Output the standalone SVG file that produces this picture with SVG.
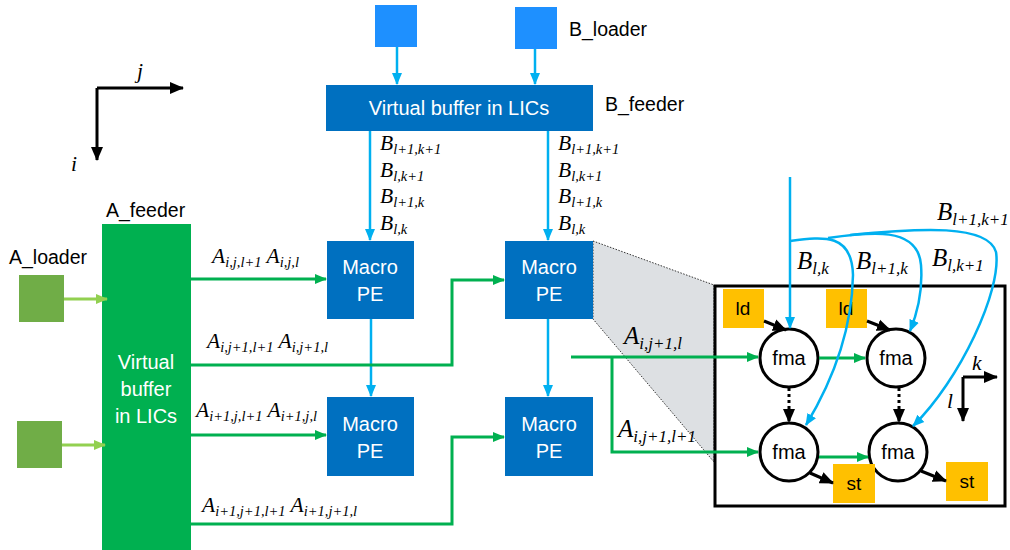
<svg xmlns="http://www.w3.org/2000/svg" width="1010" height="550" viewBox="0 0 1010 550">
<style>
.sans{font-family:"Liberation Sans",Arial,sans-serif;}
.wt{fill:#fff;font-size:20px;text-anchor:middle;}
.lbl{fill:#000;font-size:19.5px;}
.m{font-family:"Liberation Serif","Times New Roman",serif;font-style:italic;font-size:21.5px;fill:#000;}
.s{font-size:14.5px;}
.big{font-size:25px;}
.big .s{font-size:17px;}
.pe{fill:#0070C0;}
.blue{stroke:#00B0F0;stroke-width:2.5;fill:none;}
.green{stroke:#00B050;stroke-width:3;fill:none;}
.lg{stroke:#92D050;stroke-width:3;fill:none;}
.blk{stroke:#000;stroke-width:3;fill:none;}
.ora{fill:#FFC000;}
.fma{fill:#fff;stroke:#000;stroke-width:3;}
.ct{font-size:19px;fill:#000;text-anchor:middle;}
.ft{font-size:20px;fill:#000;text-anchor:middle;}
</style>
<defs>
<marker id="ab" markerUnits="userSpaceOnUse" markerWidth="12" markerHeight="12" viewBox="0 0 12 12" refX="11" refY="6" orient="auto"><path d="M0,1 L12,6 L0,11 Z" fill="#00B0F0"/></marker>
<marker id="ag" markerUnits="userSpaceOnUse" markerWidth="12" markerHeight="12" viewBox="0 0 12 12" refX="11" refY="6" orient="auto"><path d="M0,1 L12,6 L0,11 Z" fill="#00B050"/></marker>
<marker id="alg" markerUnits="userSpaceOnUse" markerWidth="12" markerHeight="12" viewBox="0 0 12 12" refX="11" refY="6" orient="auto"><path d="M0,1 L12,6 L0,11 Z" fill="#92D050"/></marker>
<marker id="ak" markerUnits="userSpaceOnUse" markerWidth="14" markerHeight="14" viewBox="0 0 14 14" refX="13" refY="7" orient="auto"><path d="M0,1 L14,7 L0,13 Z" fill="#000"/></marker>
</defs>

<!-- zoom highlight -->
<polygon points="593,241 714,285 714,462 593,319" fill="#DDE0E3" stroke="#333" stroke-width="1" stroke-dasharray="1.5,1.5"/>

<!-- axes i/j -->
<g id="axes-ij">
<path class="blk" d="M97,88 H183" marker-end="url(#ak)"/>
<path class="blk" d="M97,88 V160" marker-end="url(#ak)"/>
<text class="m" x="137" y="78" font-size="22">j</text>
<text class="m" x="71" y="171" font-size="22">i</text>
</g>

<!-- B loaders -->
<g id="b-loader-1"><rect x="375" y="5" width="42" height="42" fill="#1E90FF"/></g>
<g id="b-loader-2"><rect x="515" y="7" width="42" height="42" fill="#1E90FF"/>
<text class="sans lbl" x="569" y="36">B_loader</text></g>

<!-- B feeder -->
<g id="b-feeder"><rect x="326" y="85" width="267" height="46" class="pe"/>
<text class="sans wt" x="459" y="115">Virtual buffer in LICs</text>
<text class="sans lbl" x="605" y="111">B_feeder</text></g>

<!-- A feeder -->
<g id="a-feeder"><rect x="102" y="224" width="89" height="330" fill="#00B050"/>
<text class="sans lbl" x="106" y="217">A_feeder</text>
<text class="sans wt" x="146" y="369">Virtual</text>
<text class="sans wt" x="146" y="396">buffer</text>
<text class="sans wt" x="146" y="423">in LICs</text></g>

<!-- A loaders -->
<g id="a-loader-1"><rect x="19" y="275" width="45" height="47" fill="#70AD47"/>
<text class="sans lbl" x="9" y="264">A_loader</text></g>
<g id="a-loader-2"><rect x="17" y="421" width="45" height="47" fill="#70AD47"/></g>

<!-- Macro PEs -->
<g id="pe-00"><rect x="327" y="241" width="87" height="78" class="pe"/>
<text class="sans wt" x="370" y="274">Macro</text><text class="sans wt" x="370" y="301">PE</text></g>
<g id="pe-01"><rect x="505" y="241" width="88" height="78" class="pe"/>
<text class="sans wt" x="549" y="274">Macro</text><text class="sans wt" x="549" y="301">PE</text></g>
<g id="pe-10"><rect x="327" y="397" width="87" height="79" class="pe"/>
<text class="sans wt" x="370" y="431">Macro</text><text class="sans wt" x="370" y="458">PE</text></g>
<g id="pe-11"><rect x="505" y="397" width="88" height="79" class="pe"/>
<text class="sans wt" x="549" y="431">Macro</text><text class="sans wt" x="549" y="458">PE</text></g>

<!-- detail box -->
<g id="detail-box"><rect x="715" y="286" width="290" height="220" fill="#fff" stroke="#000" stroke-width="3"/></g>
<g id="ld-1"><rect x="723" y="289" width="41" height="39" class="ora"/><text class="sans ct" x="743" y="315">ld</text></g>
<g id="ld-2"><rect x="826" y="289" width="41" height="39" class="ora"/><text class="sans ct" x="846" y="315">ld</text></g>
<g id="fma-00"><circle cx="789" cy="358" r="29" class="fma"/><text class="sans ft" x="789" y="365">fma</text></g>
<g id="fma-01"><circle cx="896" cy="358" r="29" class="fma"/><text class="sans ft" x="896" y="365">fma</text></g>
<g id="fma-10"><circle cx="789" cy="452" r="29" class="fma"/><text class="sans ft" x="789" y="459">fma</text></g>
<g id="fma-11"><circle cx="898" cy="452" r="29" class="fma"/><text class="sans ft" x="898" y="459">fma</text></g>
<g id="st-1"><rect x="833" y="464" width="42" height="39" class="ora"/><text class="sans ct" x="854" y="490">st</text></g>
<g id="st-2"><rect x="946" y="462" width="42" height="39" class="ora"/><text class="sans ct" x="967" y="488">st</text></g>
<g id="axes-kl">
<path class="blk" d="M963,377 H997" marker-end="url(#ak)" stroke-width="2.5"/>
<path class="blk" d="M963,377 V421" marker-end="url(#ak)" stroke-width="2.5"/>
<text class="m" x="972" y="370" font-size="24">k</text>
<text class="m" x="947" y="408" font-size="24">l</text>
</g>

<g id="connectors">
<!-- B loader to feeder -->
<path class="blue" d="M397,47 V84" marker-end="url(#ab)"/>
<path class="blue" d="M535,49 V84" marker-end="url(#ab)"/>
<!-- B feeder to PEs -->
<path class="blue" d="M370,131 V240" marker-end="url(#ab)"/>
<path class="blue" d="M548,131 V240" marker-end="url(#ab)"/>
<path class="blue" d="M371,319 V396" marker-end="url(#ab)"/>
<path class="blue" d="M548,319 V396" marker-end="url(#ab)"/>
<!-- A loaders -->
<path class="lg" d="M64,299 H107" marker-end="url(#alg)"/>
<path class="lg" d="M62,445 H105" marker-end="url(#alg)"/>
<!-- A feeder to PEs -->
<path class="green" d="M191,279 H326" marker-end="url(#ag)"/>
<path class="green" d="M191,365 H452 V280 H504" marker-end="url(#ag)"/>
<path class="green" d="M191,435 H326" marker-end="url(#ag)"/>
<path class="green" d="M191,524 H452 V437 H504" marker-end="url(#ag)"/>
<!-- detail A inputs -->
<path class="green" d="M571,357 H758" marker-end="url(#ag)"/>
<path class="green" d="M612,357 V452 H758" marker-end="url(#ag)"/>
<path class="green" d="M819,358 H865" marker-end="url(#ag)"/>
<path class="green" d="M819,457 H868" marker-end="url(#ag)"/>
<!-- ld to fma -->
<path class="blk" d="M764,321 L786,330" marker-end="url(#ak)" stroke-width="2.5"/>
<path class="blk" d="M867,321 L890,330" marker-end="url(#ak)" stroke-width="2.5"/>
<!-- fma to st -->
<path class="blk" d="M810,473 L833,483" marker-end="url(#ak)" stroke-width="2.5"/>
<path class="blk" d="M921,471 L946,481" marker-end="url(#ak)" stroke-width="2.5"/>
<!-- dotted vertical -->
<path class="blk" d="M789,388 V422" stroke-dasharray="3,3" marker-end="url(#ak)" stroke-width="2.5"/>
<path class="blk" d="M899,388 V422" stroke-dasharray="3,3" marker-end="url(#ak)" stroke-width="2.5"/>
<!-- B distribution in detail -->
<path class="blue" stroke-width="3" d="M790,177 V328" marker-end="url(#ab)"/>
<path class="blue" stroke-width="3" d="M790,241 C825,236 852,234 853,275 C852,330 832,382 806,425" marker-end="url(#ab)"/>
<path class="blue" stroke-width="3" d="M828,238 C870,232 918,226 921,265 C923,292 917,314 910,331" marker-end="url(#ab)"/>
<path class="blue" stroke-width="3" d="M850,235 C920,228 988,224 996,252 C1002,290 960,380 913,426" marker-end="url(#ab)"/>
</g>

<!-- B labels -->
<g id="b-labels">
<text class="m" x="380" y="150">B<tspan class="s" dy="4">l+1,k+1</tspan></text>
<text class="m" x="380" y="177">B<tspan class="s" dy="4">l,k+1</tspan></text>
<text class="m" x="380" y="203">B<tspan class="s" dy="4">l+1,k</tspan></text>
<text class="m" x="380" y="230">B<tspan class="s" dy="4">l,k</tspan></text>
<text class="m" x="558" y="150">B<tspan class="s" dy="4">l+1,k+1</tspan></text>
<text class="m" x="558" y="177">B<tspan class="s" dy="4">l,k+1</tspan></text>
<text class="m" x="558" y="203">B<tspan class="s" dy="4">l+1,k</tspan></text>
<text class="m" x="558" y="230">B<tspan class="s" dy="4">l,k</tspan></text>
<text class="m big" x="797" y="269">B<tspan class="s" dy="5">l,k</tspan></text>
<text class="m big" x="856" y="269">B<tspan class="s" dy="5">l+1,k</tspan></text>
<text class="m big" x="932" y="266">B<tspan class="s" dy="5">l,k+1</tspan></text>
<text class="m big" x="937" y="220">B<tspan class="s" dy="5">l+1,k+1</tspan></text>
</g>
<!-- A labels -->
<g id="a-labels">
<text class="m" x="212" y="263">A<tspan class="s" dy="4">i,j,l+1</tspan><tspan dy="-4"> A</tspan><tspan class="s" dy="4">i,j,l</tspan></text>
<text class="m" x="207" y="348">A<tspan class="s" dy="4">i,j+1,l+1</tspan><tspan dy="-4"> A</tspan><tspan class="s" dy="4">i,j+1,l</tspan></text>
<text class="m" x="196" y="417">A<tspan class="s" dy="4">i+1,j,l+1</tspan><tspan dy="-4"> A</tspan><tspan class="s" dy="4">i+1,j,l</tspan></text>
<text class="m" x="202" y="512">A<tspan class="s" dy="4">i+1,j+1,l+1</tspan><tspan dy="-4"> A</tspan><tspan class="s" dy="4">i+1,j+1,l</tspan></text>
<text class="m big" x="624" y="344">A<tspan class="s" dy="5">i,j+1,l</tspan></text>
<text class="m big" x="618" y="437">A<tspan class="s" dy="5">i,j+1,l+1</tspan></text>
</g>
</svg>
